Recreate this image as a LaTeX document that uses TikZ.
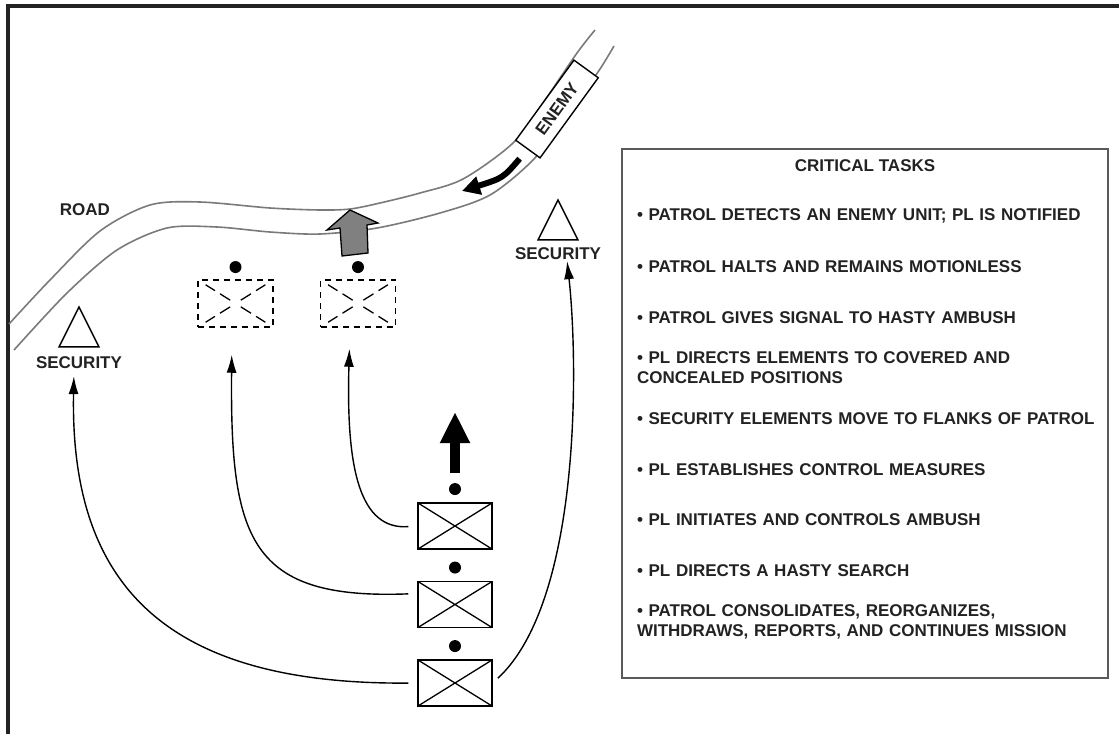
\documentclass[tikz,border=0pt]{standalone}
\usepackage{fontspec}
\setmainfont{Liberation Sans}
\usetikzlibrary{arrows.meta,positioning,shapes.geometric}
\definecolor{ink}{HTML}{222222}
\definecolor{roadgray}{HTML}{7A7A7A}
\definecolor{framegray}{HTML}{5A5A5A}
\newcommand{\mapfont}{\fontsize{17}{20}\selectfont\bfseries}

\begin{document}
\begin{tikzpicture}[x=1pt,y=-1pt,
  lbl/.style={font=\mapfont,text=ink,inner sep=0pt},
  task/.style={lbl,align=left,text width=470pt,minimum height=50pt},
  unit/.style={draw,line width=1.5pt,minimum width=74pt,minimum height=46pt,inner sep=0pt,
    path picture={\draw[line width=1.3pt] (path picture bounding box.north west)--(path picture bounding box.south east)
      (path picture bounding box.north east)--(path picture bounding box.south west);}},
  ghost/.style={draw,line width=1.5pt,dash pattern=on 6pt off 5pt,minimum width=75pt,minimum height=47pt,inner sep=0pt,
    path picture={\foreach \c in {north west,north east,south west,south east}
      \draw[line width=1.3pt,dash pattern=on 0pt off 9pt on 11pt off 6pt on 12pt off 20pt]
        (path picture bounding box.\c)--(path picture bounding box.center);}},
  dot/.style={circle,fill=black,inner sep=0pt,minimum size=12pt},
  tri/.style={isosceles triangle,isosceles triangle stretches,shape border rotate=90,draw,line width=1.5pt,
    minimum width=40pt,minimum height=40pt,inner sep=0pt},
  road/.style={draw=roadgray,line width=1.6pt},
  conn/.style={line width=1.4pt,-{Latex[length=18pt,width=10pt]}},
  node distance=0.3pt]
  \useasboundingbox (0,0) rectangle (1119,734);
  \draw[line width=4pt,ink] (1119,6)--(8,6)--(8,734);
  % road
  \draw[road] plot[smooth] coordinates {(9,324) (50,280) (100,231) (150,205) (200,202) (270,208) (320,210)
    (350,209) (380,203) (420,193) (463,179) (513,143) (545,100) (577,53) (595,30)};
  \draw[road] plot[smooth] coordinates {(14,350) (67,293) (117,250) (167,228) (217,227) (270,232) (320,234)
    (377,228) (440,213) (490,195) (533,160) (565,118) (598,72) (614,46)};
  \node[lbl] (road) at (85,210) {ROAD};
  \node[draw,fill=white,line width=1.4pt,minimum width=99pt,minimum height=30pt,inner sep=0pt,
    font=\mapfont,text=ink,rotate=54] (enemy) at (557,109) {ENEMY};
  \coordinate (ehead) at (462,191);
  \draw[line width=6pt,-{Triangle[length=18pt,width=18pt]},shorten <=12pt] (enemy.west) .. controls (503,178) .. (ehead);
  % security
  \node[tri,anchor=apex] (trL) at (79,305) {};
  \node[lbl,below=9pt of trL] (secL) {SECURITY};
  \node[tri,anchor=apex] (trR) at (558,198) {};
  \node[lbl,below=7pt of trR] (secR) {SECURITY};
  % ambush positions
  \node[ghost] (d1) at (235.5,303.5) {};
  \node[ghost,right=46pt of d1] (d2) {};
  \node[dot,above=6pt of d1] (q1) {};
  \node[dot,above=6pt of d2] (q2) {};
  \filldraw[fill=black!50,draw=black,line width=1.3pt] (342,256)--(340,228)--(327,230)--(350,210)--(378,223)--(367,225)--(368,253)--cycle;
  % patrol
  \node[unit] (u1) at (455,526) {};
  \node[unit,below=31pt of u1] (u2) {};
  \node[unit,below=31pt of u2] (u3) {};
  \node[dot,above=7pt of u1] (p1) {};
  \node[dot,above=7pt of u2] (p2) {};
  \node[dot,above=7pt of u3] (p3) {};
  \coordinate (adv) at (455,412);
  \draw[line width=10pt,-{Triangle[length=31pt,width=28pt]},shorten <=10pt] (p1.north)--(adv);
  \draw[conn,shorten <=9pt,shorten >=21pt] (u1.west) .. controls (360,530) and (346,470) .. ([xshift=-8pt]d2.south);
  \draw[conn,shorten <=9pt,shorten >=27pt] ([yshift=11pt]u2.west) .. controls (250,600) and (230,540) .. ([xshift=-3.5pt]d1.south);
  \draw[conn,shorten <=9pt,shorten >=7pt] (u3.west) .. controls (160,685) and (70,580) .. ([xshift=-5pt]secL.south);
  \draw[conn,shorten <=7pt,shorten >=1pt] (u3.east) .. controls (582,600) and (578,360) .. ([xshift=9pt]secR.south);
  % critical tasks
  \node[draw=framegray,line width=1.5pt,minimum width=486pt,minimum height=529pt,inner sep=0pt] (tasks) at (865,413.5) {};
  \node[lbl,below=11pt of tasks.north] (title) {CRITICAL TASKS};
  \node[task,below=19pt of title,xshift=7pt] (t1) {• PATROL DETECTS AN ENEMY UNIT; PL IS NOTIFIED};
  \node[task,below=of t1] (t2) {• PATROL HALTS AND REMAINS MOTIONLESS};
  \node[task,below=of t2] (t3) {• PATROL GIVES SIGNAL TO HASTY AMBUSH};
  \node[task,below=of t3] (t4) {• PL DIRECTS ELEMENTS TO COVERED AND\\CONCEALED POSITIONS};
  \node[task,below=of t4] (t5) {• SECURITY ELEMENTS MOVE TO FLANKS OF PATROL};
  \node[task,below=of t5] (t6) {• PL ESTABLISHES CONTROL MEASURES};
  \node[task,below=of t6] (t7) {• PL INITIATES AND CONTROLS AMBUSH};
  \node[task,below=of t7] (t8) {• PL DIRECTS A HASTY SEARCH};
  \node[task,below=of t8] (t9) {• PATROL CONSOLIDATES, REORGANIZES,\\WITHDRAWS, REPORTS, AND CONTINUES MISSION};
\end{tikzpicture}
\end{document}
